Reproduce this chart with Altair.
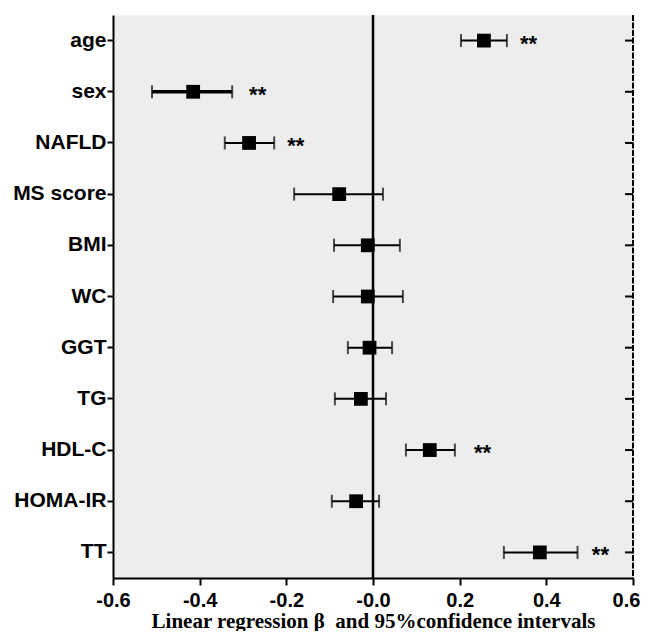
import altair as alt
import pandas as pd

terms = ["age", "sex", "NAFLD", "MS score", "BMI", "WC", "GGT", "TG", "HDL-C", "HOMA-IR", "TT"]
beta = [0.256, -0.415, -0.286, -0.078, -0.012, -0.012, -0.008, -0.028, 0.131, -0.039, 0.385]
ci_low = [0.203, -0.510, -0.342, -0.182, -0.090, -0.092, -0.058, -0.088, 0.076, -0.095, 0.302]
ci_high = [0.309, -0.325, -0.228, 0.023, 0.062, 0.069, 0.044, 0.030, 0.189, 0.014, 0.472]
stars = ["**", "**", "**", "", "", "", "", "", "**", "", "**"]
star_x = [0.339, -0.286, -0.198, None, None, None, None, None, 0.233, None, 0.505]
x_ticks = [-0.6, -0.4, -0.2, 0.0, 0.2, 0.4, 0.6]

df = pd.DataFrame({"term": terms, "beta": beta, "lo": ci_low, "hi": ci_high,
                   "star": stars, "sx": star_x})
df_st = df[df["star"] != ""]

W, H = 520, 563
xscale = alt.Scale(domain=[-0.6, 0.6], nice=False, zero=False)
yscale = alt.Scale(type="band", domain=terms, paddingInner=0, paddingOuter=0)

xaxis = alt.Axis(values=x_ticks, grid=False, title="Linear regression β\u00a0 and 95%confidence intervals",
                 labelExpr="datum.value == 0 ? '-0.0' : (datum.value < 0 ? '-' + format(-datum.value, '.1f') : format(datum.value, '.1f'))",
                 labelFont="Liberation Sans", labelFontSize=20, labelFontWeight="bold", labelColor="black",
                 labelPadding=5, tickSize=7, tickWidth=2, tickColor="black",
                 labelOffset={"condition": {"test": "datum.value > 0.59", "value": -7}, "value": 0},
                 domainColor="black", domainWidth=2,
                 titleFont="Liberation Serif", titleFontSize=21, titleFontWeight="bold", titleColor="black",
                 titlePadding=0, labelFlush=False)
yaxis = alt.Axis(title=None, grid=False, labelFont="Liberation Sans", labelFontSize=21,
                 labelFontWeight="bold", labelColor="black", labelPadding=1,
                 tickSize=6, tickWidth=2, tickColor="black", domainColor="black", domainWidth=2)

base = alt.Chart(df)
y_enc = alt.Y("term:N", scale=yscale, axis=yaxis, sort=terms)

zero = alt.Chart(pd.DataFrame({"z": [0.0]})).mark_rule(color="black", strokeWidth=2.5).encode(
    x=alt.X("z:Q", scale=xscale, axis=xaxis))

bars = base.mark_rule(color="black").encode(
    x=alt.X("lo:Q", scale=xscale),
    x2="hi:Q",
    y=y_enc,
    strokeWidth=alt.condition(alt.datum.term == "sex", alt.value(3.5), alt.value(2)),
)
cap_lo = base.mark_tick(color="black", thickness=2, size=13).encode(
    x=alt.X("lo:Q", scale=xscale), y=y_enc)
cap_hi = base.mark_tick(color="black", thickness=2, size=13).encode(
    x=alt.X("hi:Q", scale=xscale), y=y_enc)
pts = base.mark_square(color="black", opacity=1, size=190).encode(
    x=alt.X("beta:Q", scale=xscale), y=y_enc)
txt = alt.Chart(df_st).mark_text(align="left", baseline="middle", fontSize=22, fontWeight="bold",
                                 font="Liberation Sans", color="black", dy=3).encode(
    x=alt.X("sx:Q", scale=xscale), y=alt.Y("term:N", scale=yscale, sort=terms), text="star:N")

right_line = alt.Chart(pd.DataFrame({"a": [0]})).mark_rule(color="black", strokeWidth=2, strokeDash=[6, 1.5]).encode(
    x=alt.value(W), y=alt.value(0), y2=alt.value(H))
right_ticks = base.mark_rule(color="black", strokeWidth=2).encode(
    y=alt.Y("term:N", scale=yscale, sort=terms), x=alt.value(W - 8), x2=alt.value(W))

chart = alt.layer(zero, bars, cap_lo, cap_hi, pts, txt, right_line, right_ticks).properties(
    width=W, height=H,
    autosize=alt.AutoSizeParams(type="none"),
    padding={"left": 105, "top": 7, "right": 8, "bottom": 53},
    background="white",
).configure_view(fill="#ededed", stroke="transparent")

chart.save("out.html", embed_options={"renderer": "svg", "actions": False})
